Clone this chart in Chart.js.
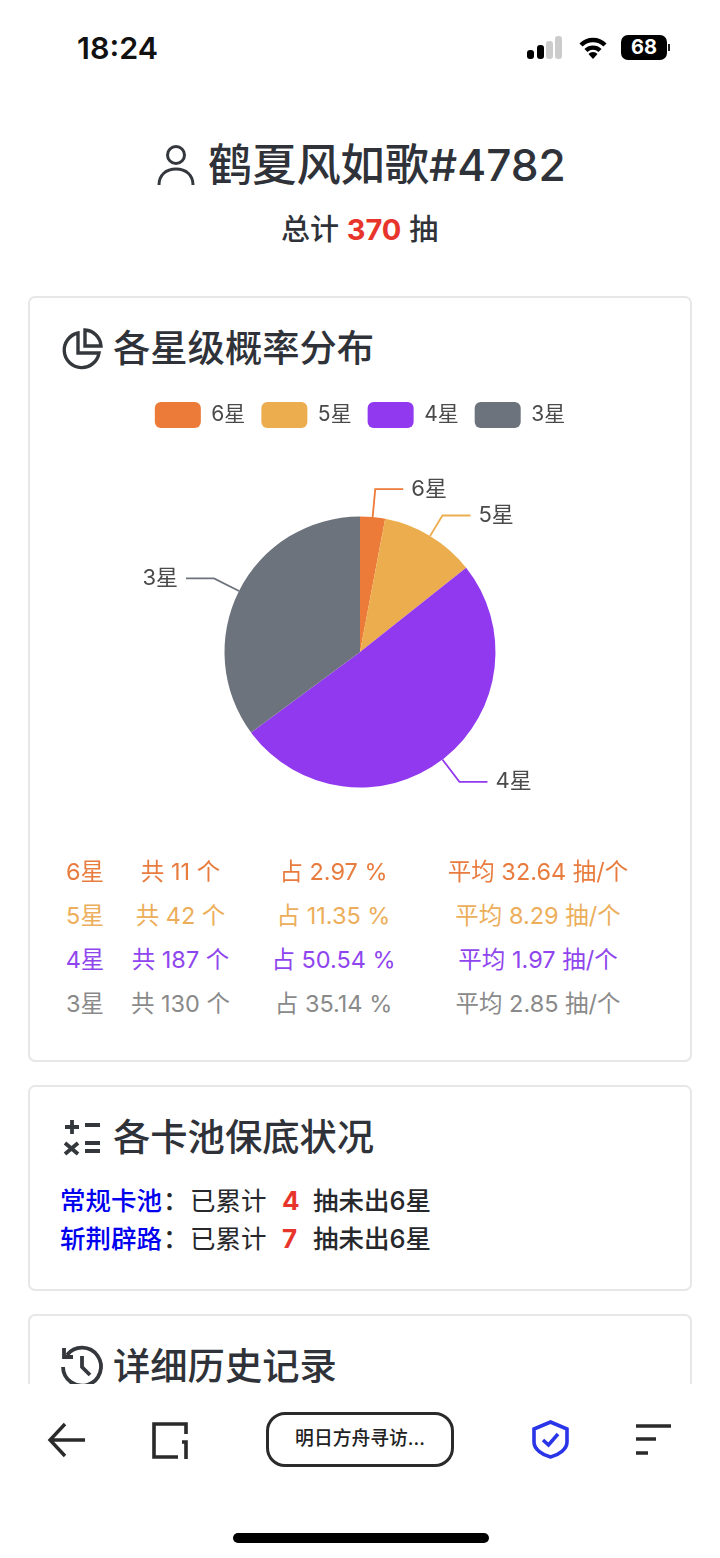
<!DOCTYPE html>
<html lang="zh-CN">
<head>
<meta charset="UTF-8" />
<title>明日方舟寻访记录</title>
<script src="https://cdn.jsdelivr.net/npm/chart.js"></script>
<style>
  html, body { margin: 0; padding: 0; background: #fff; }
  body { width: 720px; height: 1558px; position: relative; overflow: hidden;
    font-family: Inter, "Noto Sans CJK SC", sans-serif; color: #2f3339; }
  .abs { position: absolute; white-space: nowrap; line-height: 1; }
  .card { position: absolute; left: 28px; width: 660px; border: 2px solid #e6e7e8; border-radius: 7px; box-sizing: content-box; background: #fff; }
  .heading { font-size: 37.3px; font-weight: 500; left: 113px; }
  .row { font-size: 26px; font-weight: 500; color: #26282c; }
  .red { color: #e8352b; font-weight: 700; }
  .pool { color: #0000ee; }
  .cell { font-size: 23.5px; text-align: center; transform: translateX(-50%); }
  #chartBox { position: absolute; left: 30px; top: 386px; width: 660px; height: 480px; }
  #navBg { position: absolute; left: 0; top: 1384px; width: 720px; height: 174px; background: #fff; }
  svg { position: absolute; overflow: visible; fill: none; }
</style>
</head>
<body>
  <!-- 状态栏 -->
  <div class="abs" style="left:77px;top:33px;font-size:30.5px;font-weight:600;color:#111">18:24</div>
  <svg style="left:527px;top:36px" width="36" height="24">
    <rect x="0" y="14" width="7" height="9" rx="3" fill="#000"/>
    <rect x="10" y="9" width="7" height="14" rx="3" fill="#000"/>
    <rect x="19" y="5" width="7" height="18" rx="3" fill="#ccc"/>
    <rect x="28" y="0" width="7" height="23" rx="3" fill="#ccc"/>
  </svg>
  <svg style="left:578px;top:36px" width="32" height="24" stroke="#000" stroke-width="4.4">
    <path d="M3 9 A17 17 0 0 1 27 9"/>
    <path d="M8 14.5 A10 10 0 0 1 22 14.5"/>
    <path d="M15 23 L10.5 18 A6 6 0 0 1 19.5 18 Z" fill="#000" stroke="none"/>
  </svg>
  <div class="abs" style="left:621px;top:35px;width:46px;height:25px;background:#000;border-radius:7px;color:#fff;font-size:20px;font-weight:700;text-align:center;line-height:25px">68</div>
  <div class="abs" style="left:668px;top:44px;width:2px;height:7px;background:#222"></div>

  <!-- 用户 -->
  <svg style="left:157px;top:144px" width="38" height="42" stroke="#34383d" stroke-width="3">
    <circle cx="19" cy="11" r="8.5"/>
    <path d="M2 41 C2 31 9 25 19 25 C29 25 36 31 36 41"/>
  </svg>
  <div class="abs" style="left:208px;top:142.5px;font-size:44.2px;font-weight:500;">鹤夏风如歌#4782</div>
  <div class="abs" style="left:281px;top:215px;font-size:29px;font-weight:500;">总计 <span class="red">370</span> 抽</div>

  <!-- 概率分布 -->
  <div class="card" style="top:296px;height:762px"></div>
  <svg style="left:61px;top:328px" width="42" height="42" stroke="#34383d" stroke-width="3.4">
    <path d="M17 5 A17.5 17.5 0 1 0 38 25 L17 25 Z" />
    <path d="M24 2 A17 17 0 0 1 40 18 L24 18 Z" />
  </svg>
  <div class="abs heading" style="top:330px">各星级概率分布</div>
  <div id="chartBox"><canvas id="pieChart"></canvas></div>
  <div id="tableBox"></div>

  <!-- 保底 -->
  <div class="card" style="top:1085px;height:202px"></div>
  <svg style="left:63px;top:1119px" width="38" height="36" stroke="#34383d" stroke-width="3.8">
    <path d="M9 1 V15 M2 8 H16 M22 6 H37 M2 24 L15 35 M15 24 L2 35 M22 24 H37 M22 32 H37"/>
  </svg>
  <div class="abs heading" style="top:1119px">各卡池保底状况</div>
  <div id="poolBox"></div>

  <!-- 历史 -->
  <div class="card" style="top:1314px;height:200px"></div>
  <svg style="left:61px;top:1346px" width="42" height="42" stroke="#34383d" stroke-width="3.8">
    <path d="M6 9 A19 19 0 1 1 2 21"/>
    <path d="M3 2 V11 H12 M21 10 V21 L29 29"/>
  </svg>
  <div class="abs heading" style="top:1347.5px">详细历史记录</div>

  <!-- 底部栏 -->
  <div id="navBg"></div>
  <svg style="left:48px;top:1423px" width="38" height="34" stroke="#2a2a2a" stroke-width="3.4">
    <path d="M37 17 H2 M17 1 L2 17 L17 33"/>
  </svg>
  <svg style="left:152px;top:1422px" width="38" height="38" stroke="#2a2a2a" stroke-width="3.6">
    <path d="M34 12 V2 H2 V35 H26 M34 37 V20 H30"/>
  </svg>
  <div class="abs" style="left:266px;top:1412px;width:188px;height:55px;box-sizing:border-box;border:3.5px solid #2a2a2a;border-radius:19px;text-align:center;font-size:18.8px;font-weight:500;line-height:48px;color:#222">明日方舟寻访...</div>
  <svg style="left:532px;top:1420px" width="37" height="39" stroke="#2a35e8" stroke-width="3.6">
    <path d="M18.5 2 L35 9 V22 C35 29 27 35 18.5 37 C10 35 2 29 2 22 V9 Z"/>
    <path d="M11 20 L16.5 25 L26 14"/>
  </svg>
  <svg style="left:636px;top:1424px" width="36" height="32" stroke="#2a2a2a" stroke-width="3.6">
    <path d="M0 2 H35 M0 15 H20 M0 29 H12"/>
  </svg>
  <div class="abs" style="left:233px;top:1533px;width:256px;height:10px;background:#000;border-radius:5px"></div>

  <script>
    const starLabels = ["6星", "5星", "4星", "3星"];
    const starCounts = [11, 42, 187, 130];
    const starPercents = ["2.97", "11.35", "50.54", "35.14"];
    const starAverages = ["32.64", "8.29", "1.97", "2.85"];
    const sliceColors = ["#ec7a38", "#ecad4e", "#9139ee", "#6c737c"];
    const textColors = ["#e87c3e", "#ecae5a", "#8f45ee", "#8a8a8a"];
    const poolNames = ["常规卡池", "斩荆辟路"];
    const poolPity = [4, 7];

    const FONT = 'Inter, "Noto Sans CJK SC", sans-serif';
    const LEADER_LENGTHS = [28, 24, 28, 28];

    // 饼图外侧的引导线和标签
    const leaderLabels = {
      id: "leaderLabels",
      afterDatasetsDraw(chart) {
        const ctx = chart.ctx;
        chart.getDatasetMeta(0).data.forEach((arc, i) => {
          const { x, y, startAngle, endAngle, outerRadius } = arc.getProps(
            ["x", "y", "startAngle", "endAngle", "outerRadius"], true
          );
          const mid = (startAngle + endAngle) / 2;
          const cos = Math.cos(mid);
          const sin = Math.sin(mid);
          const x1 = x + cos * outerRadius;
          const y1 = y + sin * outerRadius;
          const x2 = x + cos * (outerRadius + LEADER_LENGTHS[i]);
          const y2 = y + sin * (outerRadius + LEADER_LENGTHS[i]);
          const dir = cos >= 0 ? 1 : -1;
          const x3 = x2 + dir * 28;
          ctx.save();
          ctx.strokeStyle = sliceColors[i];
          ctx.lineWidth = 1.8;
          ctx.beginPath();
          ctx.moveTo(x1, y1);
          ctx.lineTo(x2, y2);
          ctx.lineTo(x3, y2);
          ctx.stroke();
          ctx.fillStyle = "#4a4a4a";
          ctx.font = "22px " + FONT;
          ctx.textBaseline = "middle";
          ctx.textAlign = dir > 0 ? "left" : "right";
          ctx.fillText(starLabels[i], x3 + dir * 8, y2);
          ctx.restore();
        });
      },
    };

    new Chart(document.getElementById("pieChart"), {
      type: "pie",
      data: {
        labels: starLabels,
        datasets: [{
          data: starCounts,
          backgroundColor: sliceColors,
          borderWidth: 0,
          radius: 135.5,
        }],
      },
      options: {
        responsive: true,
        maintainAspectRatio: false,
        animation: false,
        plugins: {
          tooltip: { enabled: false },
          legend: {
            position: "top",
            labels: {
              boxWidth: 46,
              boxHeight: 26,
              useBorderRadius: true,
              borderRadius: 6,
              padding: 16,
              color: "#4a4a4a",
              font: { size: 21, family: FONT },
            },
          },
        },
      },
      plugins: [leaderLabels],
    });

    // 统计表
    const tableBox = document.getElementById("tableBox");
    const columnCenters = [85, 180.5, 333.5, 538];
    starLabels.forEach((label, i) => {
      const cells = [
        label,
        "共 " + starCounts[i] + " 个",
        "占 " + starPercents[i] + " %",
        "平均 " + starAverages[i] + " 抽/个",
      ];
      cells.forEach((text, c) => {
        const el = document.createElement("div");
        el.className = "abs cell";
        el.style.left = columnCenters[c] + "px";
        el.style.top = 860 + i * 44 + "px";
        el.style.color = textColors[i];
        el.textContent = text;
        tableBox.appendChild(el);
      });
    });

    // 保底
    const poolBox = document.getElementById("poolBox");
    poolNames.forEach((name, i) => {
      const top = 1188 + i * 38;
      poolBox.innerHTML +=
        `<div class="abs row pool" style="left:60px;top:${top}px;font-size:25.5px">${name}</div>` +
        `<div class="abs row" style="left:163px;top:${top}px">：</div>` +
        `<div class="abs row" style="left:190px;top:${top}px;font-weight:400;font-size:25.5px">已累计</div>` +
        `<div class="abs row red" style="left:282px;top:${top}px">${poolPity[i]}</div>` +
        `<div class="abs row" style="left:313px;top:${top}px;font-size:25.5px">抽未出6星</div>`;
    });
  </script>
</body>
</html>
